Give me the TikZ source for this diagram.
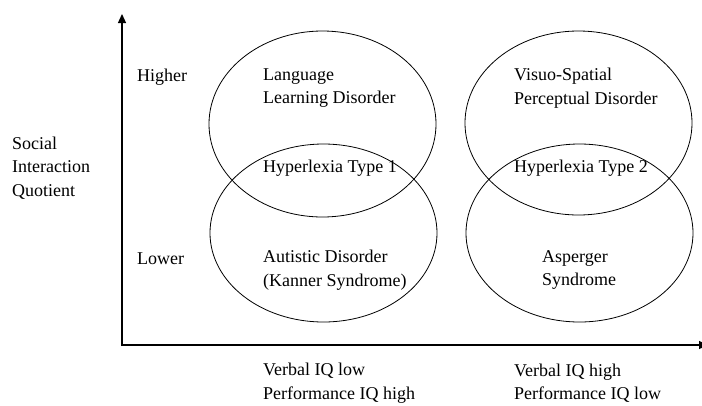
\documentclass[tikz,border=0pt]{standalone}
\usepackage{fontspec}
\setmainfont{Liberation Serif}
\usetikzlibrary{arrows.meta}
\begin{document}
\begin{tikzpicture}[x=1pt,y=-1pt,
    lbl/.style={anchor=west,align=left,inner sep=0pt,font=\fontsize{18}{23.5}\selectfont},
    ring/.style={line width=0.8pt}]
    \useasboundingbox (0,0) rectangle (702,405);
    % axes
    \coordinate (origin) at (122,345);
    \coordinate (ytop) at (122,14);
    \coordinate (xend) at (708,345);
    \draw[line width=1.3pt,-{Triangle[length=9pt,width=8pt]}] (122,346) -- (ytop);
    \draw[line width=1.3pt,-{Triangle[length=9pt,width=8pt]}] (121,345) -- (xend);
    % circles
    \draw[ring] (322.5,124) ellipse [x radius=113.5,y radius=93];
    \draw[ring] (323.5,233) ellipse [x radius=113.5,y radius=89];
    \draw[ring] (578.5,123) ellipse [x radius=113.5,y radius=92];
    \draw[ring] (579.5,233) ellipse [x radius=113.5,y radius=89];
    % labels
    \node[lbl] (siq) at (12,168) {Social\\Interaction\\Quotient};
    \node[lbl] (higher) at (137,77) {Higher};
    \node[lbl] (lower) at (137,259) {Lower};
    \node[lbl] (lld) at (263,88) {Language\\Learning Disorder};
    \node[lbl] (hyp1) at (263,168) {Hyperlexia Type 1};
    \node[lbl] (aut) at (263,270) {Autistic Disorder\\(Kanner Syndrome)};
    \node[lbl] (vsp) at (514,88) {Visuo-Spatial\\Perceptual Disorder};
    \node[lbl] (hyp2) at (514,168) {Hyperlexia Type 2};
    \node[lbl] (asp) at (542,270) {Asperger\\Syndrome};
    \node[lbl] (vlow) at (263,383) {Verbal IQ low\\Performance IQ high};
    \node[lbl] (vhigh) at (514,383) {Verbal IQ high\\Performance IQ low};
\end{tikzpicture}
\end{document}
